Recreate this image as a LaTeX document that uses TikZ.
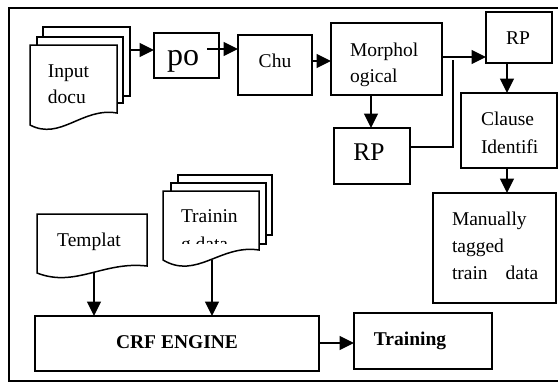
\documentclass[tikz,border=0pt]{standalone}
\usepackage{fontspec}
\setmainfont{Liberation Serif}
\usetikzlibrary{arrows.meta}

% document sheet with a wavy lower edge: x0, top, x1, right-bottom, drop at left, dip, rise
\newcommand\docsheet[7]{%
  \draw[sheet] (#1,#2) -- (#3,#2) -- (#3,#4)
    .. controls ({#1+0.6*(#3-#1)},{#4-#7}) and ({#1+0.35*(#3-#1)},{#4+#6}) ..
    (#1,{#4+#5}) -- cycle;}

\begin{document}
\begin{tikzpicture}[x=1pt,y=-1pt,
  every node/.style={inner sep=0pt,outer sep=0pt},
  box/.style={draw,line width=1.5pt,fill=white},
  sheet/.style={draw,line width=1.5pt,fill=white,line join=miter},
  conn/.style={line width=1.5pt},
  arr/.style={conn,-{Triangle[length=14.5pt,width=14pt]}},
  txt/.style={font=\fontsize{19.5}{24}\selectfont},
  btxt/.style={font=\fontsize{19.5}{24}\selectfont\bfseries}]
\useasboundingbox (0,0) rectangle (558,391);

% outer frame
\draw[line width=1.6pt] (9,8) rectangle (575,381);

% input document stack
\node[box,minimum width=87pt,minimum height=69pt] (inBack) at (86.5,61.5) {};
\node[box,minimum width=86pt,minimum height=66pt] (inMid) at (80,70) {};
\docsheet{30}{45}{117}{113}{12}{28}{6}
\node[txt,anchor=base west] (inT1) at (48,77) {Input};
\node[txt,anchor=base west] (inT2) at (48,103) {docu};

% processing chain
\node[box,minimum width=65pt,minimum height=45pt] (po) at (186.5,55.5) {};
\node[anchor=base,font=\fontsize{32}{36}\selectfont] (poT) at (183,65) {po};
\node[box,minimum width=74pt,minimum height=60pt] (chu) at (275,65) {};
\node[txt,anchor=base] (chuT) at (275,67) {Chu};
\node[box,minimum width=111pt,minimum height=72pt] (morph) at (386.5,59) {};
\node[txt,anchor=base west] (morphT1) at (350,56) {Morphol};
\node[txt,anchor=base west] (morphT2) at (350,82) {ogical};
\node[box,minimum width=66pt,minimum height=51pt] (rpA) at (519,37.5) {};
\node[txt,anchor=base] (rpAT) at (518,44) {RP};
\node[box,minimum width=76pt,minimum height=56pt] (rpB) at (372,156) {};
\node[anchor=base,font=\fontsize{25.5}{30}\selectfont] (rpBT) at (369,160.5) {RP};
\node[box,minimum width=96pt,minimum height=75pt] (clause) at (509,130.5) {};
\node[txt,anchor=base west] (clauseT1) at (481,125) {Clause};
\node[txt,anchor=base west] (clauseT2) at (481,153) {Identifi};
\node[box,minimum width=123pt,minimum height=110pt] (manual) at (494.5,248) {};
\node[txt,anchor=base west] (manT1) at (452,225) {Manually};
\node[txt,anchor=base west] (manT2) at (452,252) {tagged};
\node[txt,anchor=base west] (manT3) at (452,279) {train\hspace*{18pt}data};

% template document
\docsheet{37}{214}{147}{266}{7}{22}{5}
\node[txt,anchor=base] (tplT) at (89,246.5) {Templat};

% training data stack
\node[box,minimum width=94pt,minimum height=60pt] (trBack) at (225,205) {};
\node[box,minimum width=95pt,minimum height=61pt] (trMid) at (218.5,213.5) {};
\docsheet{163}{191}{259}{250}{10}{30}{6}
\node[txt,anchor=base west] (trT1) at (181,222.5) {Trainin};
\begin{scope}
  \clip (165,192) rectangle (257,243);
  \node[txt,anchor=base west] (trT2) at (181,250) {g data};
\end{scope}

% engine and training
\node[box,minimum width=284pt,minimum height=55pt] (crf) at (177,343.5) {};
\node[btxt,anchor=base] (crfT) at (177,348) {CRF ENGINE};
\node[box,minimum width=138pt,minimum height=56pt] (train) at (423,341) {};
\node[btxt,anchor=base] (trainT) at (410,345.5) {Training};

% connectors
\coordinate (yIn) at (0,50);
\coordinate (poArr) at (207,49);
\coordinate (yChu) at (0,61);
\coordinate (yMor) at (0,57);
\coordinate (xMor) at (371,0);
\coordinate (yRp) at (0,147);
\coordinate (turn) at (453,60);
\coordinate (xCl) at (507,0);
\coordinate (tplOut) at (94,273);
\coordinate (trOut) at (212,260);
\coordinate (yCrf) at (0,343);

\draw[arr] (inBack.east |- yIn) -- (po.west |- yIn);
\draw[arr] (poArr) -- (chu.west |- poArr);
\draw[arr] (chu.east |- yChu) -- (morph.west |- yChu);
\draw[arr] (morph.east |- yMor) -- (rpA.west |- yMor);
\draw[arr] (morph.south -| xMor) -- (rpB.north -| xMor);
\draw[conn] (rpB.east |- yRp) -| (turn);
\draw[arr] (rpA.south -| xCl) -- (clause.north -| xCl);
\draw[arr] (clause.south -| xCl) -- (manual.north -| xCl);
\draw[arr] (tplOut) -- (crf.north -| tplOut);
\draw[arr] (trOut) -- (crf.north -| trOut);
\draw[arr] (crf.east |- yCrf) -- (train.west |- yCrf);
\end{tikzpicture}
\end{document}
